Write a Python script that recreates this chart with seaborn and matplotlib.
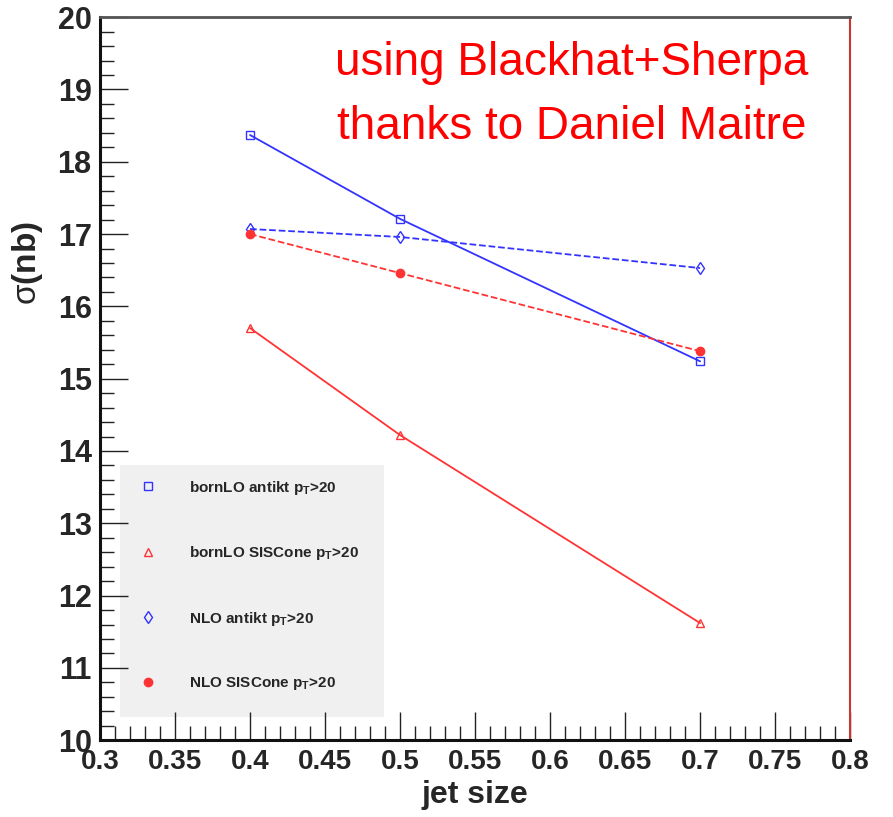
import matplotlib
matplotlib.use("Agg")
import matplotlib.pyplot as plt
from matplotlib.lines import Line2D
from matplotlib.patches import Rectangle
from matplotlib.ticker import MultipleLocator, FormatStrFormatter
import seaborn as sns
import pandas as pd

# Jet radius values and cross sections (nb)
jet_size = [0.4, 0.5, 0.7]
born_antikt = [18.37, 17.21, 15.24]
born_siscone = [15.70, 14.22, 11.62]
nlo_antikt = [17.07, 16.96, 16.53]
nlo_siscone = [17.00, 16.46, 15.38]

labels = [
    r"bornLO antikt p$_{\mathbf{T}}$>20",
    r"bornLO SISCone p$_{\mathbf{T}}$>20",
    r"NLO antikt p$_{\mathbf{T}}$>20",
    r"NLO SISCone p$_{\mathbf{T}}$>20",
]

sns.set_style("ticks")
plt.rcParams["font.family"] = ["Liberation Sans", "DejaVu Sans"]
plt.rcParams["mathtext.fontset"] = "custom"
plt.rcParams["mathtext.bf"] = "Liberation Sans:bold"
plt.rcParams["mathtext.rm"] = "Liberation Sans"
plt.rcParams["mathtext.default"] = "bf"

series = [
    (born_antikt, "#3333ff", "-", "s", "none"),
    (born_siscone, "#ff3333", "-", "^", "none"),
    (nlo_antikt, "#3333ff", "--", "d", "none"),
    (nlo_siscone, "#ff3333", "--", "o", "#ff3333"),
]

fig = plt.figure(figsize=(8.93, 8.17), dpi=100)
ax = fig.add_axes([0.112, 0.094, 0.840, 0.885])

handles = []
for (vals, col, ls, mk, mfc), lab in zip(series, labels):
    df = pd.DataFrame({"jet size": jet_size, "sigma": vals})
    sns.lineplot(data=df, x="jet size", y="sigma", ax=ax, color=col,
                 linestyle=ls, linewidth=1.3, marker=mk, markersize=6,
                 markerfacecolor=mfc, markeredgecolor=col, markeredgewidth=1.0,
                 legend=False)
    handles.append(Line2D([], [], linestyle="none", marker=mk, markersize=6,
                          color=col, markerfacecolor=mfc, markeredgecolor=col,
                          label=lab))

ax.set_xlim(0.3, 0.8)
ax.set_ylim(10, 20)
ax.xaxis.set_major_locator(MultipleLocator(0.05))
ax.xaxis.set_minor_locator(MultipleLocator(0.01))
ax.yaxis.set_major_locator(MultipleLocator(1))
ax.yaxis.set_minor_locator(MultipleLocator(0.2))
ax.xaxis.set_major_formatter(FormatStrFormatter("%g"))
ax.yaxis.set_major_formatter(FormatStrFormatter("%g"))

ax.tick_params(which="both", direction="in", top=False, right=False, color="#222222")
ax.tick_params(which="major", length=20, width=1.0, pad=6)
ax.tick_params(which="minor", length=10, width=1.0)

for t in ax.get_xticklabels():
    t.set_fontweight("bold")
    t.set_fontsize(20)
for t in ax.get_yticklabels():
    t.set_fontweight("bold")
    t.set_fontsize(22)

ax.set_xlabel("jet size", fontsize=23, fontweight="bold", labelpad=4)
ax.set_ylabel(r"$\mathrm{\sigma}$(nb)", fontsize=24, fontweight="bold")
ax.yaxis.set_label_coords(-0.073, 0.66)

for side in ["left", "bottom"]:
    ax.spines[side].set_linewidth(2.2)
    ax.spines[side].set_color("#111111")
ax.spines["top"].set_linewidth(2.0)
ax.spines["top"].set_color("#555555")
ax.spines["right"].set_linewidth(1.5)
ax.spines["right"].set_color("#cc3333")

# Legend panel
ax.add_patch(Rectangle((0.027, 0.032), 0.351, 0.349, transform=ax.transAxes,
                       facecolor="#f0f0f0", edgecolor="none", zorder=0.5))
leg = ax.legend(handles=handles, loc="upper left", bbox_to_anchor=(0.045, 0.37),
                frameon=False, prop={"weight": "bold", "size": 11},
                handlelength=1.0, handletextpad=2.2, labelspacing=3.1,
                borderaxespad=0)

ax.text(0.629, 0.936, "using Blackhat+Sherpa", transform=ax.transAxes,
        color="#ff0000", fontsize=33, ha="center", va="center")
ax.text(0.629, 0.848, "thanks to Daniel Maitre", transform=ax.transAxes,
        color="#ff0000", fontsize=33, ha="center", va="center")

fig.savefig("out.png", dpi=100)
